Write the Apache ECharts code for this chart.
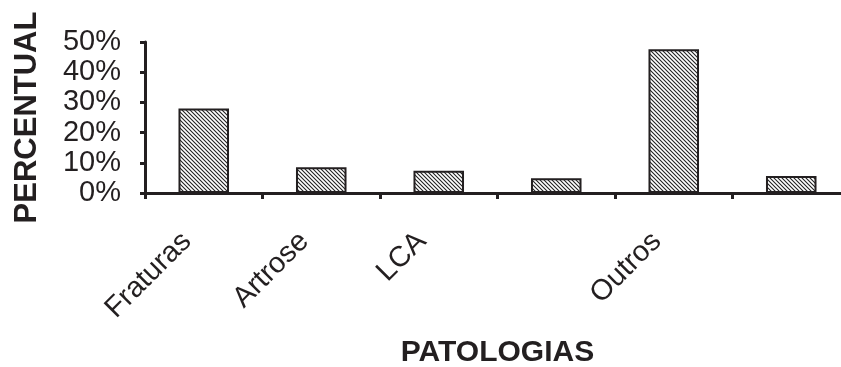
<!DOCTYPE html>
<html>
<head>
<meta charset="utf-8">
<script src="https://cdn.jsdelivr.net/npm/echarts@6/dist/echarts.min.js"></script>
<style>
  html, body { margin: 0; padding: 0; background: #fff; }
  #chart { width: 841px; height: 367px; }
</style>
</head>
<body>
<div id="chart"></div>
<script>
const categories = ['Fraturas', 'Artrose', 'LCA', '', 'Outros', '']
const values = [28, 8.5, 7.4, 4.9, 47.6, 5.6]
const yTicks = [0, 10, 20, 30, 40, 50]

const ink = '#231f20'
const font = 'Liberation Sans, Arial, sans-serif'

// diagonal hatch fill, like the printed figure
const makeHatch = () => {
  const c = document.createElement('canvas')
  c.width = 4
  c.height = 4
  const ctx = c.getContext('2d')
  ctx.fillStyle = '#fff'
  ctx.fillRect(0, 0, 4, 4)
  ctx.strokeStyle = '#222'
  ctx.lineWidth = 1.1
  ctx.beginPath()
  ctx.moveTo(-1, -1)
  ctx.lineTo(5, 5)
  ctx.moveTo(3, -1)
  ctx.lineTo(5, 1)
  ctx.moveTo(-1, 3)
  ctx.lineTo(1, 5)
  ctx.stroke()
  return c
}

const chart = echarts.init(document.getElementById('chart'))

chart.setOption({
  backgroundColor: '#fff',
  animation: false,
  grid: {
    left: 145,
    top: 42,
    bottom: 174,
    right: -9,
    containLabel: false,
    outerBoundsMode: 'none',
  },
  xAxis: {
    type: 'category',
    data: categories,
    name: 'PATOLOGIAS',
    nameLocation: 'middle',
    nameGap: 145,
    nameMoveOverlap: false,
    nameTextStyle: { color: ink, fontFamily: font, fontSize: 30, fontWeight: 'bold' },
    axisLine: { lineStyle: { color: ink, width: 3 } },
    axisTick: { show: true, length: 6, lineStyle: { color: ink, width: 3 } },
    axisLabel: {
      interval: 0,
      rotate: 45,
      margin: 27,
      padding: [0, 24, 0, 0],
      color: ink,
      fontFamily: font,
      fontSize: 29,
    },
  },
  yAxis: {
    type: 'value',
    min: yTicks[0],
    max: yTicks[yTicks.length - 1],
    interval: 10,
    name: 'PERCENTUAL',
    nameLocation: 'middle',
    nameRotate: 90,
    nameGap: 102,
    nameMoveOverlap: false,
    nameTextStyle: { color: ink, fontFamily: font, fontSize: 31, fontWeight: 'bold' },
    axisLine: { show: true, lineStyle: { color: ink, width: 3 } },
    axisTick: { show: true, length: 5, lineStyle: { color: ink, width: 3 } },
    splitLine: { show: false },
    axisLabel: {
      formatter: '{value}%',
      margin: 24,
      color: ink,
      fontFamily: font,
      fontSize: 29,
    },
  },
  series: [
    {
      type: 'bar',
      data: values,
      barWidth: '43%',
      itemStyle: {
        color: { image: makeHatch(), repeat: 'repeat' },
        borderColor: ink,
        borderWidth: 2,
      },
    },
  ],
})
</script>
</body>
</html>
